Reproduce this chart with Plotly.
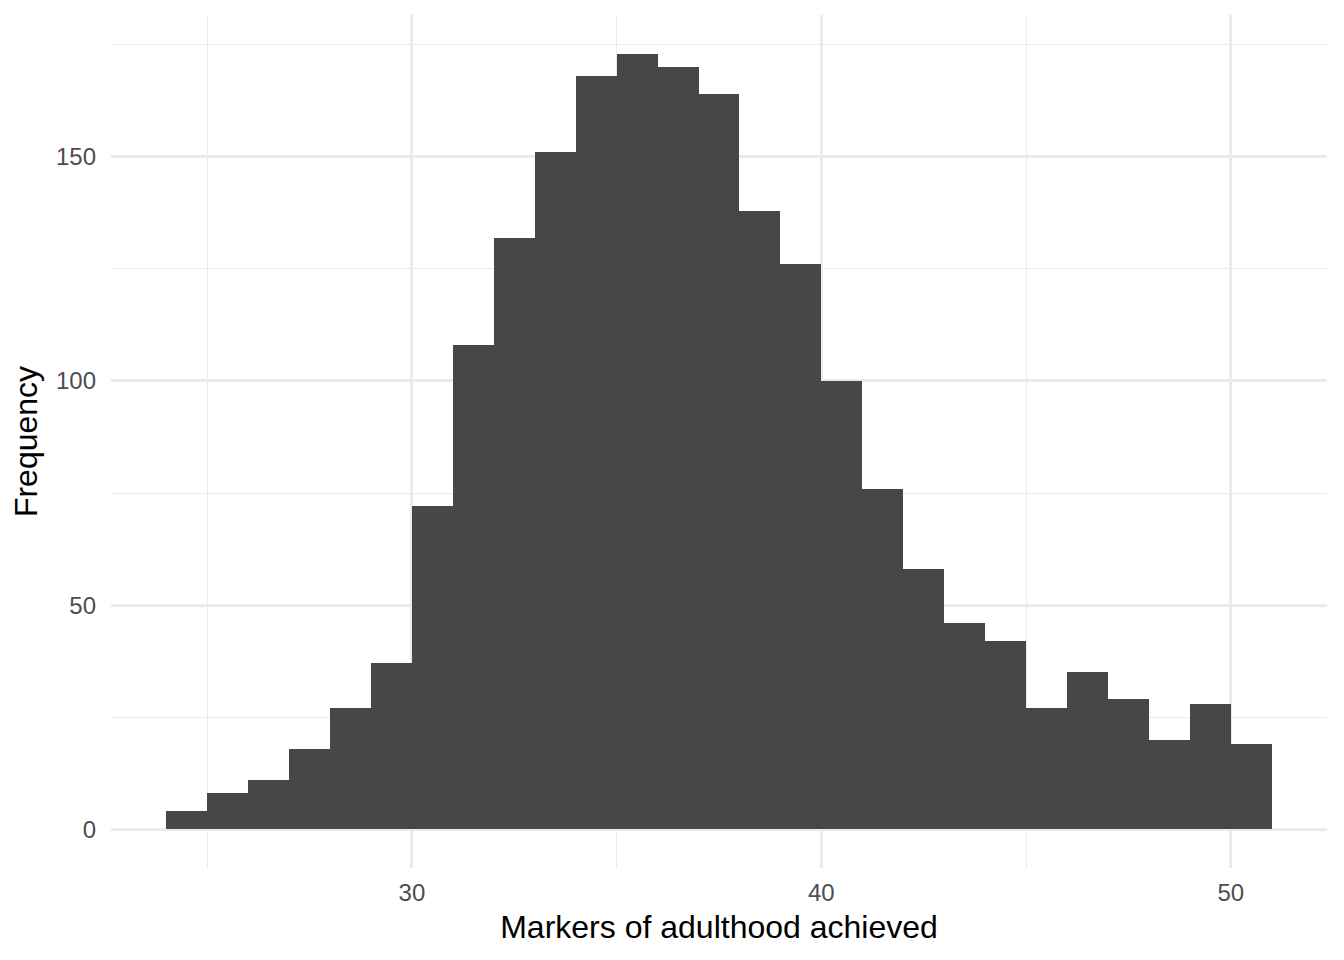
import plotly.graph_objects as go

# histogram bins (width 1) and counts
bin_starts = list(range(24, 51))
counts = [4, 8, 11, 18, 27, 37, 72, 108, 132, 151, 168, 173, 170, 164,
          138, 126, 100, 76, 58, 46, 42, 27, 35, 29, 20, 28, 19]

x_ticks = [30, 40, 50]
x_minor = [25, 35, 45]
y_ticks = [0, 50, 100, 150]
y_minor = [25, 75, 125, 175]

centres = [b + 0.5 for b in bin_starts]

fig = go.Figure()
fig.add_trace(go.Bar(
    x=centres,
    y=counts,
    width=1,
    marker=dict(color='#474747', line=dict(width=0)),
    hoverinfo='x+y'
))

grid = '#EBEBEB'
tick_font = dict(family='Liberation Sans, Arial, sans-serif', size=24, color='#4D4D4D')
title_font = dict(family='Liberation Sans, Arial, sans-serif', size=32, color='black')

# the page puts the plot 8px in from the top-left corner, so margins are trimmed
fig.update_layout(
    width=1344,
    height=960,
    margin=dict(l=103, r=25, t=7, b=100),
    paper_bgcolor='white',
    plot_bgcolor='white',
    showlegend=False,
    bargap=0,
    xaxis=dict(
        range=[22.65, 52.35],
        tickvals=x_ticks,
        ticktext=[str(v) for v in x_ticks],
        tickfont=tick_font,
        showgrid=True, gridcolor=grid, gridwidth=2.6,
        minor=dict(tickvals=x_minor, showgrid=True, gridcolor=grid, gridwidth=1.4),
        zeroline=False, showline=False,
        ticks='', ticklabelstandoff=8,
        title=dict(text='Markers of adulthood achieved', font=title_font, standoff=10),
        automargin=False
    ),
    yaxis=dict(
        range=[-8.65, 181.65],
        tickvals=y_ticks,
        ticktext=[str(v) for v in y_ticks],
        tickfont=tick_font,
        showgrid=True, gridcolor=grid, gridwidth=2.6,
        minor=dict(tickvals=y_minor, showgrid=True, gridcolor=grid, gridwidth=1.4),
        zeroline=False, showline=False,
        ticks='', ticklabelstandoff=14,
        title=dict(text='Frequency', font=title_font, standoff=8),
        automargin=False
    ),
)

fig.write_html("out.html")
